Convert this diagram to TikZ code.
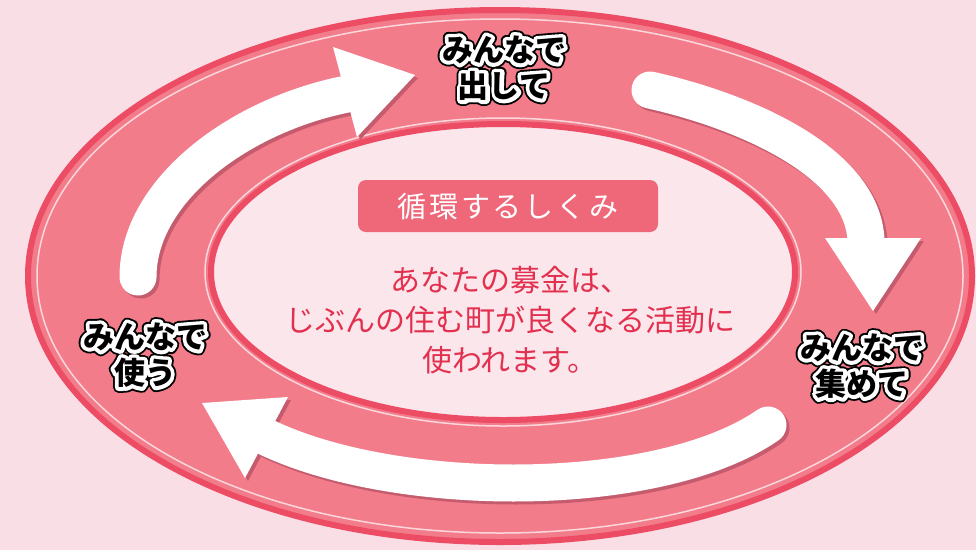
\documentclass[tikz,border=0pt]{standalone}
\usepackage{fontspec}
\newfontfamily\jp{Noto Sans CJK JP}
\newfontfamily\jpwide{Noto Sans CJK JP}[LetterSpace=10]
\newfontfamily\jpouter{Noto Sans CJK JP}[FakeBold=36]
\newfontfamily\jpinner{Noto Sans CJK JP}[FakeBold=24]

\definecolor{bgpink}{RGB}{250,222,229}
\definecolor{ringpink}{RGB}{243,124,139}
\definecolor{ringred}{RGB}{236,76,100}
\definecolor{innerpink}{RGB}{251,230,236}
\definecolor{boxpink}{RGB}{238,104,122}
\definecolor{textred}{RGB}{226,48,78}
\definecolor{arrowshade}{RGB}{196,92,110}

\tikzset{
  lbl/.style={font=\jp\bfseries\fontsize{31}{36}\selectfont, align=center, inner sep=0pt, text=black},
  lblinner/.style={font=\jpinner\bfseries\fontsize{31}{36}\selectfont, align=center, inner sep=0pt, text=white},
  lblouter/.style={font=\jpouter\bfseries\fontsize{31}{36}\selectfont, align=center, inner sep=0pt, text=black},
  flow/.style={draw=white, line width=37pt, line cap=round},
  flowshade/.style={draw=arrowshade, line width=37pt, line cap=round},
}

% outlined label: name, position, text
\newcommand{\haloLabel}[3]{%
  \node[lblouter] at #2 {#3};
  \node[lblinner] at #2 {#3};
  \node[lbl] (#1) at #2 {#3};
}

% white arrow: tail, control, control, end of shaft, head corner, tip, head corner
\newcommand{\flowArrow}[7]{%
  \draw[flowshade, shift={(3,3)}] #1 .. controls #2 and #3 .. #4;
  \fill[arrowshade, shift={(3,3)}] #5 -- #6 -- #7 -- cycle;
  \draw[flow] #1 .. controls #2 and #3 .. #4;
  \fill[white] #5 -- #6 -- #7 -- cycle;
}

\begin{document}
\begin{tikzpicture}[x=1pt,y=-1pt]
        \useasboundingbox (0,0) rectangle (976,550);
        \fill[bgpink] (0,0) rectangle (976,550);

        % the ring
        \filldraw[fill=ringpink, draw=ringred, line width=6pt] (500,276) ellipse [x radius=472pt, y radius=266pt];
        \draw[white, opacity=.7, line width=1.5pt] (500,276) ellipse [x radius=463pt, y radius=257pt];
        \draw[white, opacity=.7, line width=1.5pt] (503,272) ellipse [x radius=298pt, y radius=154pt];
        \filldraw[fill=innerpink, draw=ringred, line width=6pt] (503,272) ellipse [x radius=292pt, y radius=148pt];

        % arrows
        \flowArrow{(138,277)}{(138,190)}{(240,115)}{(347,94)}{(333,47)}{(415,75)}{(357,137)}
        \flowArrow{(650,90)}{(740,110)}{(862,160)}{(866,240)}{(825,238)}{(873,311)}{(921,238)}
        \flowArrow{(768,425)}{(660,500)}{(400,500)}{(268,438)}{(288,397)}{(202,403)}{(245,478)}

        % labels
        \begin{scope}[line join=round]
        \haloLabel{give}{(504,68)}{みんなで\\出して}
        \haloLabel{collect}{(862,366)}{みんなで\\集めて}
        \haloLabel{use}{(145,355)}{みんなで\\使う}
        \end{scope}

        % centre
        \node[fill=boxpink, rounded corners=8pt, minimum width=300pt, minimum height=52pt,
              text=white, font=\jpwide\fontsize{29}{32}\selectfont] (title) at (508,206) {循環するしくみ};
        \node[text=textred, align=center, font=\jp\fontsize{30}{40}\selectfont] (message) at (510,320)
            {あなたの募金は、\\じぶんの住む町が良くなる活動に\\使われます。};
\end{tikzpicture}
\end{document}
